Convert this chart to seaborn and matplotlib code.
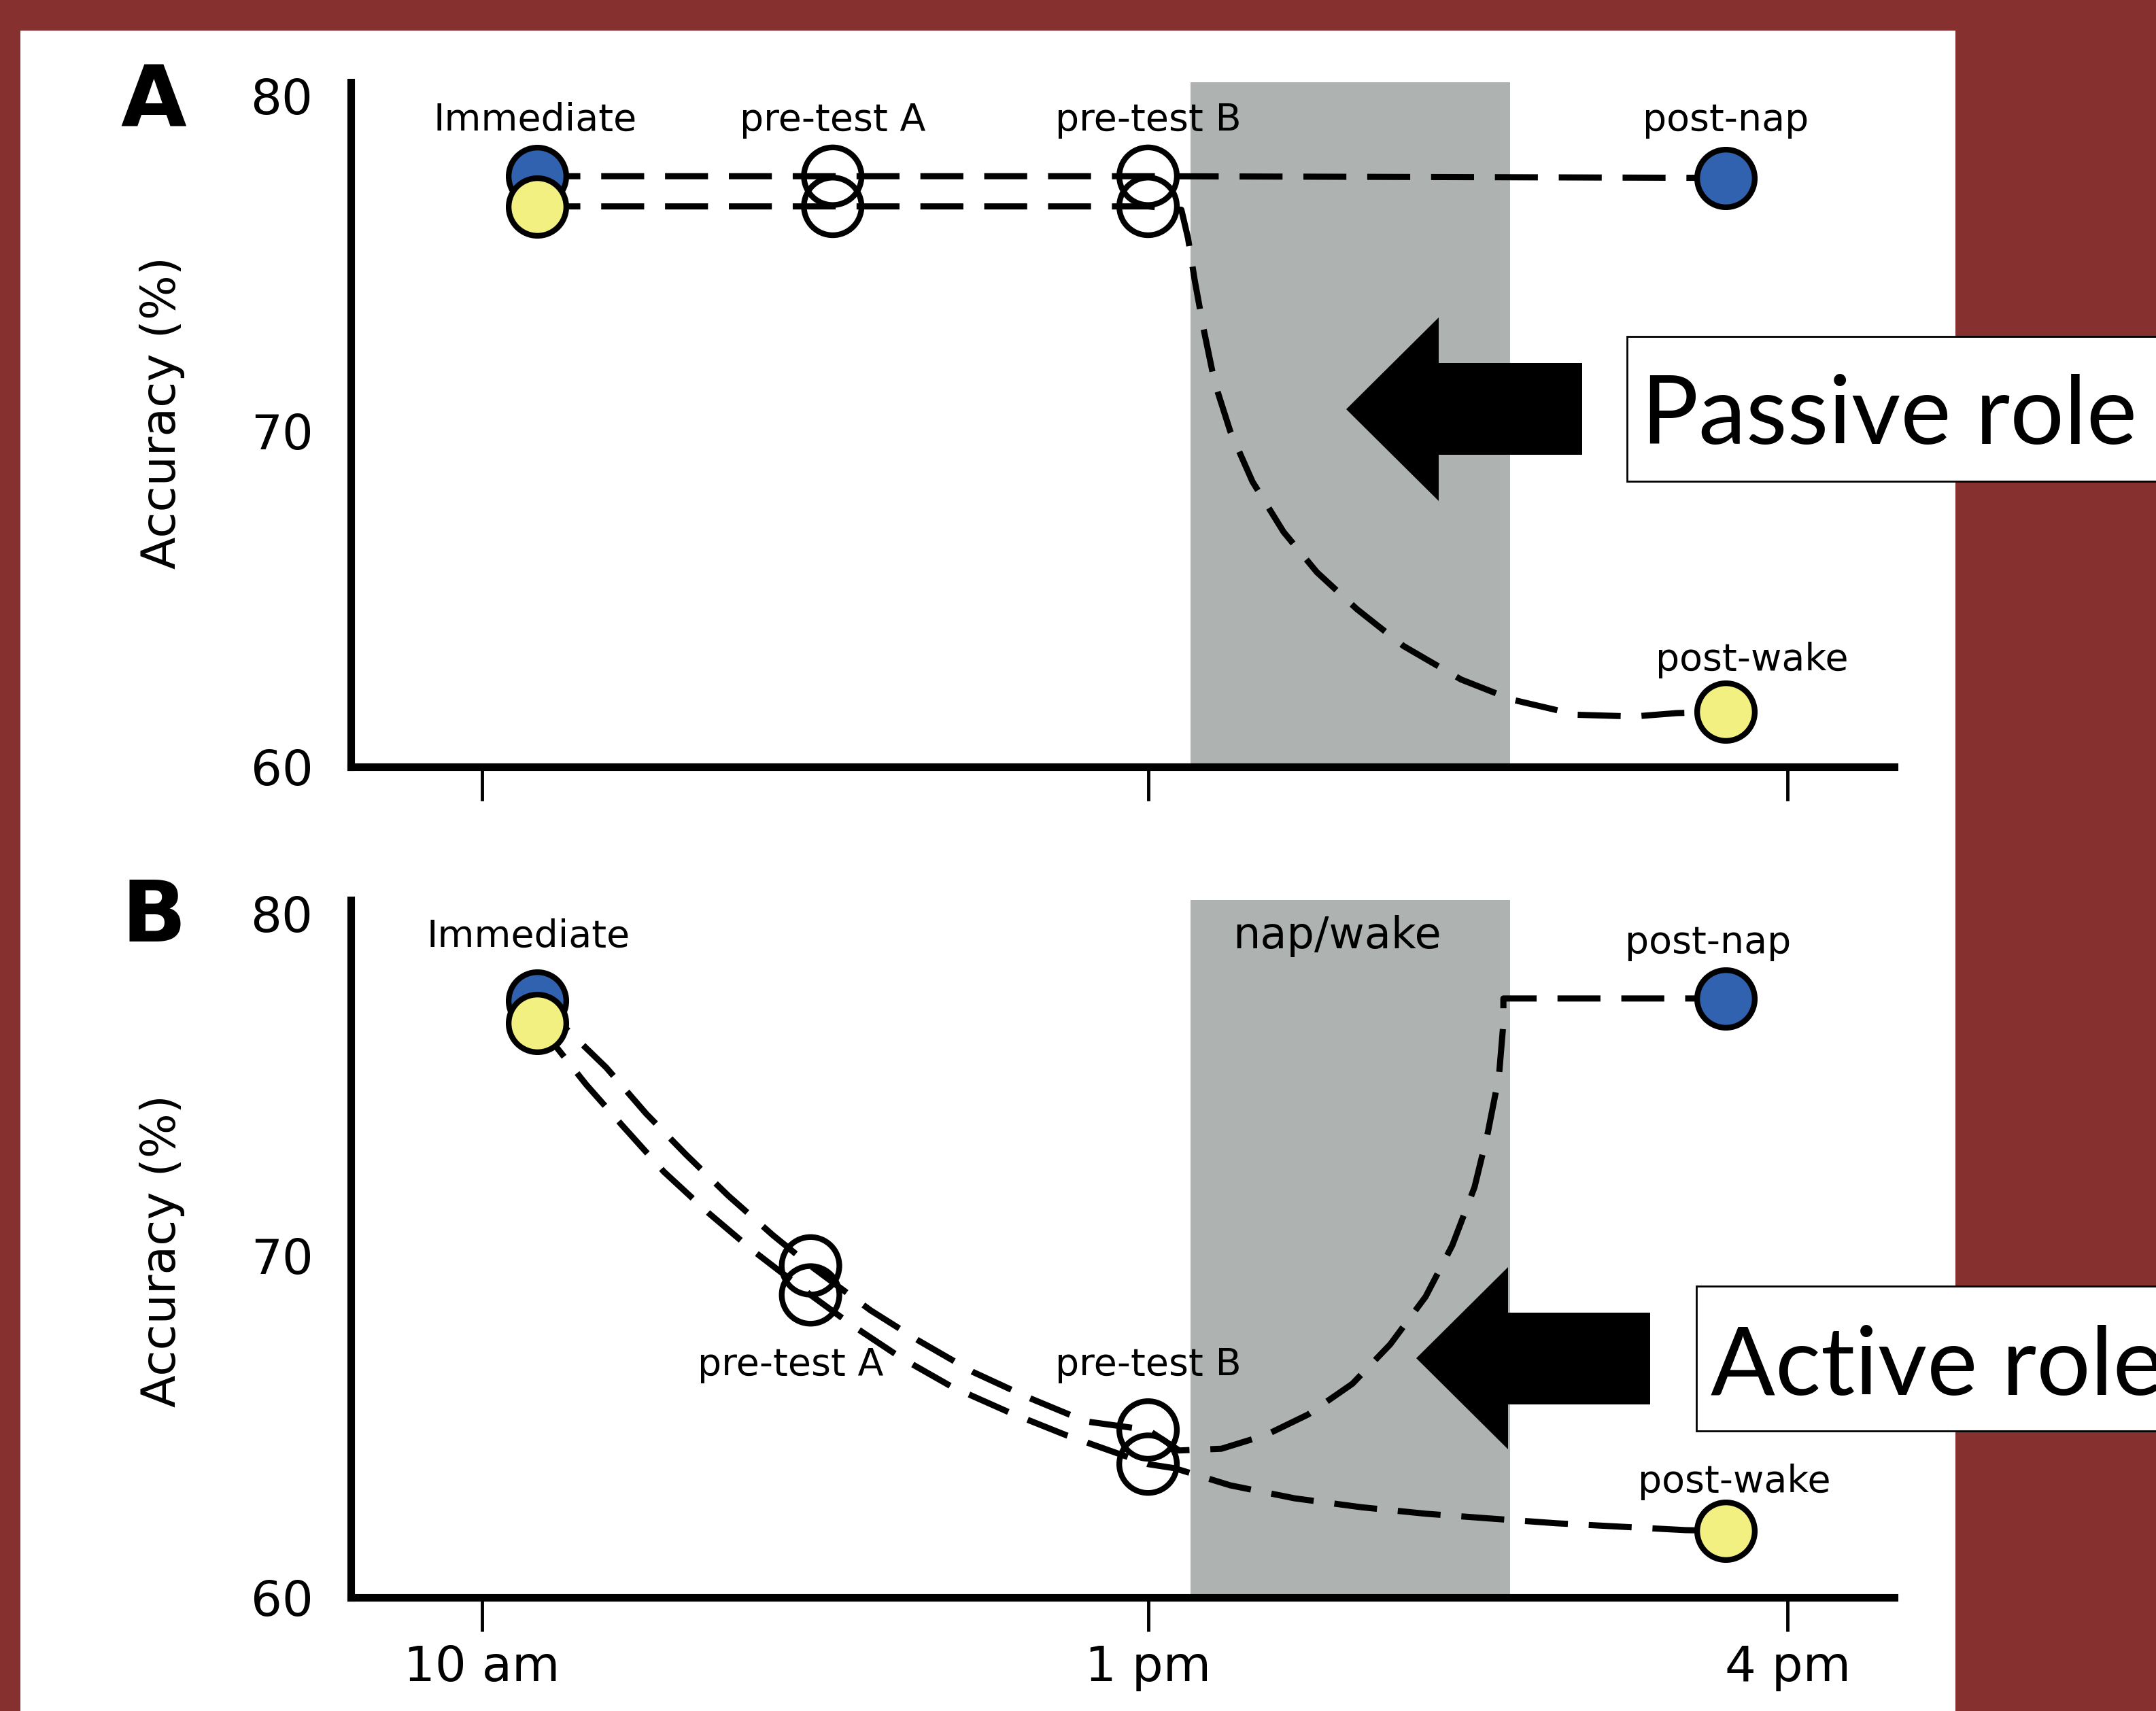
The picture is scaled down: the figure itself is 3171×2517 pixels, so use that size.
import matplotlib
matplotlib.use('Agg')
import matplotlib.pyplot as plt
from matplotlib.patches import Rectangle, Polygon
import seaborn as sns

W, H = 3171, 2517

# ---- data (time in hours of the day, accuracy in %) ----
x_limits = (9.41, 16.36)
y_limits = (60, 80.4)
tick_hours = [10, 13, 15.88]
tick_labels = ['10 am', '1 pm', '4 pm']
y_ticks = [60, 70, 80]
nap_window = (13.19, 14.63)

# panel A (passive role)
a_test_x = [10.25, 11.58, 13.0]
a_nap_acc = [77.6, 77.6, 77.6]
a_wake_acc = [76.7, 76.7, 76.7]
a_post_x = 15.6
a_post_nap = 77.55
a_post_wake = 61.64
a_wake_curve_x = [13.0, 13.15, 13.18, 13.21, 13.25, 13.30, 13.37, 13.47, 13.61, 13.76,
                  13.94, 14.15, 14.41, 14.64, 14.93, 15.19, 15.38, 15.6]
a_wake_curve_y = [76.7, 76.6, 75.75, 74.5, 73.05, 71.45, 70.0, 68.5, 67.0, 65.8,
                  64.7, 63.6, 62.6, 62.0, 61.55, 61.5, 61.6, 61.64]

# panel B (active role)
b_test_x = [10.25, 11.48, 13.0]
b_nap_acc = [77.45, 69.7, 64.9]
b_wake_acc = [76.8, 68.85, 63.9]
b_post_x = 15.6
b_post_nap = 77.52
b_post_wake = 61.95
b_nap_decay_x = [10.25, 10.56, 10.74, 10.92, 11.11, 11.31, 11.48, 11.75, 11.97, 12.21, 12.46, 12.72, 13.0]
b_nap_decay_y = [77.45, 75.5, 74.15, 72.95, 71.75, 70.6, 69.7, 68.4, 67.5, 66.6, 65.85, 65.15, 64.9]
b_wake_decay_x = [10.25, 10.47, 10.64, 10.82, 11.02, 11.22, 11.48, 11.67, 11.89, 12.12, 12.38, 12.63, 13.0]
b_wake_decay_y = [76.8, 75.0, 73.75, 72.45, 71.25, 70.15, 68.85, 67.95, 67.0, 66.15, 65.4, 64.75, 63.9]
b_nap_curve_x = [13.0, 13.14, 13.33, 13.53, 13.72, 13.92, 14.09, 14.25, 14.37, 14.47, 14.53, 14.58, 14.60, 14.60, 15.6]
b_nap_curve_y = [64.9, 64.3, 64.35, 64.75, 65.35, 66.25, 67.4, 68.8, 70.3, 72.0, 73.6, 75.25, 76.8, 77.52, 77.52]
b_wake_curve_x = [13.0, 13.12, 13.37, 13.66, 13.96, 14.25, 14.54, 14.84, 15.13, 15.42, 15.6]
b_wake_curve_y = [63.9, 63.78, 63.28, 62.9, 62.64, 62.45, 62.31, 62.17, 62.07, 61.97, 61.95]

a_labels = ['Immediate', 'pre-test A', 'pre-test B', 'post-nap', 'post-wake']
b_labels = ['Immediate', 'pre-test A', 'pre-test B', 'post-nap', 'post-wake', 'nap/wake']

# ---- style ----
sns.set_style('ticks')
plt.rcParams['font.family'] = ['DejaVu Sans']

BG_RED = '#873030'
BLUE = '#3162b0'
YELLOW = '#f3f082'
SPAN_GREY = '#aeb3b2'
LS = (0, (7, 3.4))
LW = 6.5
MS = 61 ** 2
MEW = 6


def fxy(px, py):
    return px / W, 1 - py / H


fig = plt.figure(figsize=(W / 100, H / 100), dpi=100)
fig.patch.set_facecolor(BG_RED)
fig.add_artist(Rectangle(fxy(30, H), 2846 / W, 2472 / H, transform=fig.transFigure,
                         facecolor='white', edgecolor='none', zorder=-1))

axA = fig.add_axes([516 / W, 1 - 1128 / H, 2270 / W, 1007 / H])
axB = fig.add_axes([516 / W, 1 - 2350 / H, 2270 / W, 1026 / H])


def dline(ax, x, y):
    sns.lineplot(x=x, y=y, ax=ax, color='black', lw=LW, linestyle=LS,
                 estimator=None, sort=False, zorder=2)


def dots(ax, x, y, fill):
    sns.scatterplot(x=x, y=y, ax=ax, s=MS, color=fill, edgecolor='black',
                    linewidth=MEW, zorder=3, clip_on=False)


def style_axes(ax, show_labels):
    ax.patch.set_visible(False)
    ax.axvspan(*nap_window, color=SPAN_GREY, lw=0, zorder=0)
    ax.set_xlim(*x_limits)
    ax.set_ylim(*y_limits)
    ax.set_xticks(tick_hours)
    ax.set_xticklabels(tick_labels)
    ax.set_yticks(y_ticks)
    sns.despine(ax=ax)
    for s in ['left', 'bottom']:
        ax.spines[s].set_linewidth(8)
        ax.spines[s].set_color('black')
    ax.tick_params(axis='x', bottom=True, direction='out', length=36, width=3.5, pad=14,
                   labelsize=52, colors='black', labelbottom=show_labels)
    ax.tick_params(axis='y', left=True, length=0, pad=40, labelsize=52, colors='black')
    ax.set_xlabel('')
    ax.set_ylabel('')


# panel A
style_axes(axA, False)
dline(axA, a_test_x + [a_post_x], a_nap_acc + [a_post_nap])
dline(axA, a_test_x[:-1] + a_wake_curve_x, a_wake_acc[:-1] + a_wake_curve_y)
dots(axA, [a_test_x[0], a_post_x], [a_nap_acc[0], a_post_nap], BLUE)
dots(axA, [a_test_x[0], a_post_x], [a_wake_acc[0], a_post_wake], YELLOW)
dots(axA, a_test_x[1:] * 2, a_nap_acc[1:] + a_wake_acc[1:], 'none')

a_label_pos = [(10.24, 79.27), (11.58, 79.27), (13.0, 79.27), (15.6, 79.27), (15.72, 63.18)]
for txt, (lx, ly) in zip(a_labels, a_label_pos):
    axA.text(lx, ly, txt, ha='center', va='center', fontsize=40, color='black')

# panel B
style_axes(axB, True)
dline(axB, b_nap_decay_x + b_nap_curve_x[1:], b_nap_decay_y + b_nap_curve_y[1:])
dline(axB, b_wake_decay_x + b_wake_curve_x[1:], b_wake_decay_y + b_wake_curve_y[1:])
dots(axB, [b_test_x[0], b_post_x], [b_nap_acc[0], b_post_nap], BLUE)
dots(axB, [b_test_x[0], b_post_x], [b_wake_acc[0], b_post_wake], YELLOW)
dots(axB, b_test_x[1:] * 2, b_nap_acc[1:] + b_wake_acc[1:], 'none')

b_label_pos = [(10.21, 79.34), (11.39, 66.8), (13.0, 66.8), (15.52, 79.15), (15.64, 63.38), (13.85, 79.34)]
for txt, (lx, ly) in zip(b_labels, b_label_pos):
    axB.text(lx, ly, txt, ha='center', va='center', color='black',
             fontsize=46 if txt == 'nap/wake' else 40)

# panel letters and y labels
for letter, py in [('A', 152), ('B', 1351)]:
    fig.text(*fxy(226, py), letter, ha='center', va='center', fontsize=90,
             fontweight='bold', color='black')
for py in [607, 1840]:
    fig.text(*fxy(239, py), 'Accuracy (%)', ha='center', va='center', rotation=90,
             fontsize=50, color='black')

# arrows and role boxes
arrows = [
    [(1980, 602), (2116, 467), (2116, 534), (2327, 534), (2327, 669), (2116, 669), (2116, 737)],
    [(2083, 1998), (2218, 1864), (2218, 1931), (2427, 1931), (2427, 2066), (2218, 2066), (2218, 2132)],
]
for pts in arrows:
    fig.add_artist(Polygon([fxy(*p) for p in pts], closed=True, transform=fig.transFigure,
                           facecolor='black', edgecolor='none', zorder=5))

boxes = [('Passive role', 2393, 495, 708, 2414, 653),
         ('Active role', 2495, 1892, 2105, 2516, 2052)]
for txt, bx, top, bot, tx, base in boxes:
    fig.add_artist(Rectangle(fxy(bx, bot), (W + 50 - bx) / W, (bot - top) / H,
                             transform=fig.transFigure, facecolor='white',
                             edgecolor='black', lw=2, zorder=5, clip_on=False))
    fig.text(*fxy(tx, base), txt, ha='left', va='baseline', fontsize=101,
             family=['Lato', 'DejaVu Sans'], color='black', zorder=6)

fig.savefig('out.png', dpi=100, facecolor=fig.get_facecolor())
